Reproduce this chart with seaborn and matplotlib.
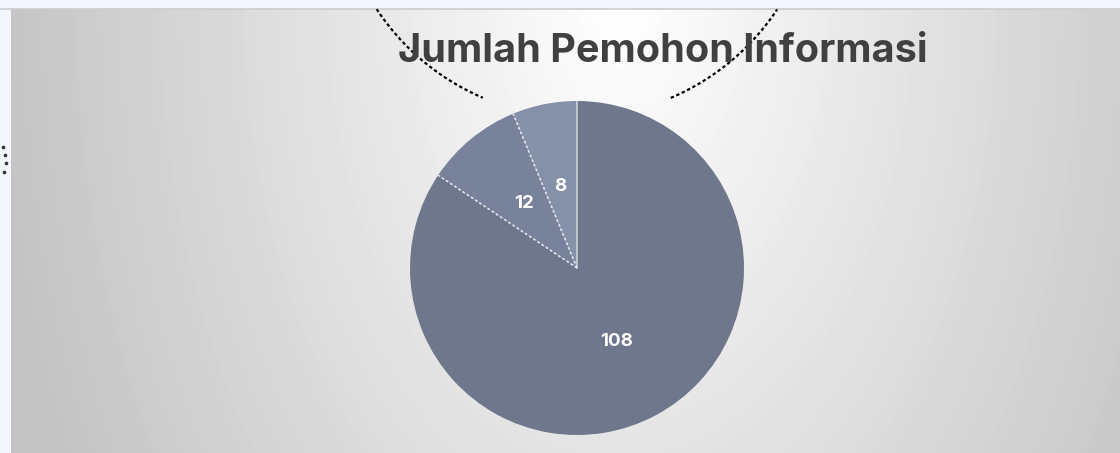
import numpy as np
import seaborn as sns
import matplotlib.pyplot as plt

# ---------------------------------------
# Data
# ---------------------------------------
title = "Jumlah Pemohon Informasi"
values = [108, 12, 8]
slice_colors = ["#6e778b", "#78829a", "#8590a9"]

sns.set_style("white")
plt.rcParams['font.family'] = ['Inter', 'DejaVu Sans']

W, H = 1120, 453
fig = plt.figure(figsize=(W / 100, H / 100), dpi=100, facecolor="#f3f6fa")

# background panel with radial gradient
bg = fig.add_axes([11 / W, 0, 1 - 11 / W, (H - 9) / H])
xx, yy = np.meshgrid(np.arange(11, W), np.arange(9, H))
d = np.sqrt(((xx - 620) / 620) ** 2 + ((yy - 0) / 1000) ** 2)
shade = np.clip(255 - 59 * d, 196, 255) / 255
bg.imshow(shade, cmap="gray", vmin=0, vmax=1, aspect="auto",
          extent=(11, W, H, 9), interpolation="bilinear")
bg.set_axis_off()

# overlay axes in pixel coords for decorations
deco = fig.add_axes([0, 0, 1, 1], facecolor="none")
deco.set_xlim(0, W)
deco.set_ylim(H, 0)
deco.set_axis_off()
deco.axhline(8.5, color="#c9ccd0", lw=1.2)
t = np.linspace(0, 2 * np.pi, 2000)
ax_x = 577 + 240 * np.cos(t)
ax_y = -123 + 240 * np.sin(t)
mask = (ax_y > 9) & (ax_y < 98)
for side in [ax_x < 577, ax_x >= 577]:
    m = mask & side
    order = np.argsort(ax_x[m])
    deco.plot(ax_x[m][order], ax_y[m][order], color="black", lw=1.6,
              ls=(0, (1.5, 1.2)), zorder=3)
deco.plot([3, 5, 6, 4], [147, 155, 163, 172], ls="none", marker="o",
          ms=1.6, color="#333333")

# title
fig.text(398 / W, 1 - 62 / H, title, ha="left", va="baseline",
         fontsize=28.5, fontweight="bold", color="#404040")

# pie
cx, cy, r = 577, 268, 167
ax = fig.add_axes([(cx - r) / W, (H - cy - r) / H, 2 * r / W, 2 * r / H])
wedges, texts = ax.pie(values, colors=slice_colors, startangle=90,
                       counterclock=False, labels=[str(v) for v in values],
                       labeldistance=0.5,
                       wedgeprops=dict(linewidth=0, edgecolor="none"),
                       textprops=dict(color="white", fontsize=13.5,
                                      fontweight="bold", ha="center",
                                      va="center"))
ax.set_xlim(-1, 1)
ax.set_ylim(-1, 1)
ax.set_aspect("auto")
ax.set_axis_off()

# separators between slices
total = sum(values)
cum = np.cumsum([0] + values)
for i, c in enumerate(cum[:-1]):
    ang = np.deg2rad(90 - 360 * c / total)
    ls = "-" if i == 0 else (0, (1.5, 1.5))
    col = "#c9ced8" if i == 0 else "#e6e9ef"
    ax.plot([0, np.cos(ang)], [0, np.sin(ang)], color=col, lw=1.2, ls=ls)

fig.savefig("out.png", dpi=100, facecolor=fig.get_facecolor())
